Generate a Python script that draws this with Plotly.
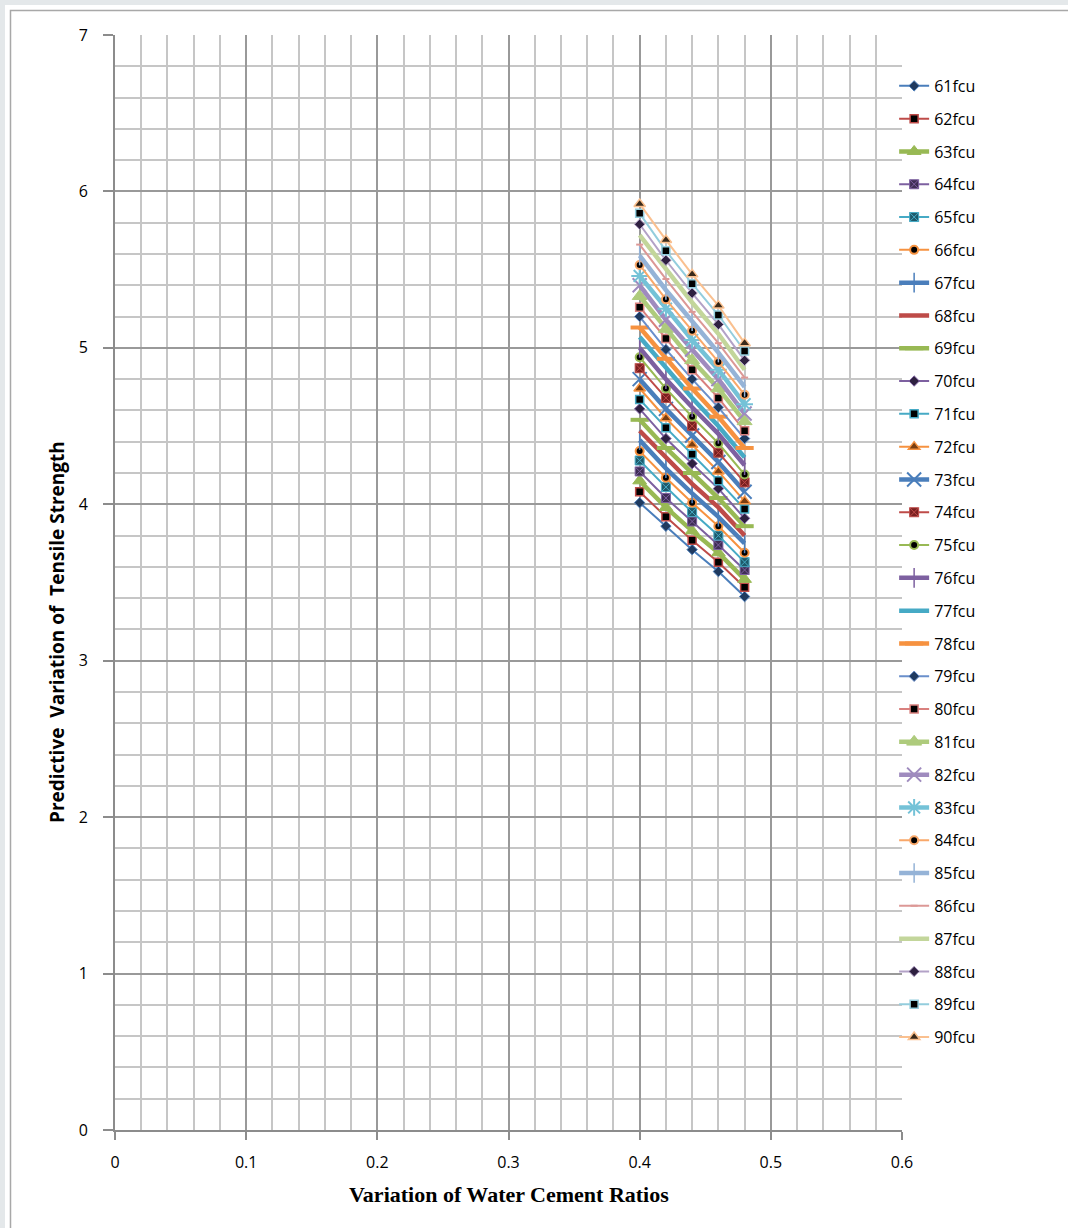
import plotly.graph_objects as go

# ---------------- data ----------------
wc_ratios = [0.40, 0.42, 0.44, 0.46, 0.48]
series_names = [f"{v}fcu" for v in range(61, 91)]

# predicted tensile strength for each series (61fcu ... 90fcu) at each w/c ratio
ts_040 = [4.01, 4.08, 4.15, 4.21, 4.28, 4.34, 4.41, 4.47, 4.54, 4.61,
          4.67, 4.74, 4.80, 4.87, 4.94, 5.00, 5.07, 5.13, 5.20, 5.26,
          5.33, 5.40, 5.46, 5.53, 5.59, 5.66, 5.72, 5.79, 5.86, 5.92]
ts_042 = [3.86, 3.92, 3.98, 4.04, 4.11, 4.17, 4.23, 4.30, 4.36, 4.42,
          4.49, 4.55, 4.61, 4.68, 4.74, 4.80, 4.87, 4.93, 4.99, 5.06,
          5.12, 5.18, 5.25, 5.31, 5.37, 5.44, 5.50, 5.56, 5.62, 5.69]
ts_044 = [3.71, 3.77, 3.83, 3.89, 3.95, 4.01, 4.07, 4.13, 4.20, 4.26,
          4.32, 4.38, 4.44, 4.50, 4.56, 4.62, 4.68, 4.74, 4.80, 4.86,
          4.92, 4.99, 5.05, 5.11, 5.17, 5.23, 5.29, 5.35, 5.41, 5.47]
ts_046 = [3.57, 3.63, 3.69, 3.74, 3.80, 3.86, 3.92, 3.98, 4.04, 4.10,
          4.15, 4.21, 4.27, 4.33, 4.39, 4.45, 4.50, 4.56, 4.62, 4.68,
          4.74, 4.80, 4.86, 4.91, 4.97, 5.03, 5.09, 5.15, 5.21, 5.27]
ts_048 = [3.41, 3.47, 3.52, 3.58, 3.63, 3.69, 3.75, 3.80, 3.86, 3.91,
          3.97, 4.02, 4.08, 4.14, 4.19, 4.25, 4.30, 4.36, 4.42, 4.47,
          4.53, 4.58, 4.64, 4.70, 4.75, 4.81, 4.86, 4.92, 4.98, 5.03]

x_ticks = [0, 0.1, 0.2, 0.3, 0.4, 0.5, 0.6]
x_tick_labels = ["0", "0.1", "0.2", "0.3", "0.4", "0.5", "0.6"]
y_ticks = [0, 1, 2, 3, 4, 5, 6, 7]

# ---------------- styles ----------------
# (line colour, line width, marker symbol, marker size, marker fill, marker line colour, marker line width)
THIN, THICK = 2, 4.5
styles = [
    ("#4A7EBB", THIN, "diamond", 8, "#1F3A5F", "#4A7EBB", 1),
    ("#BE4B48", THIN, "square", 8, "#000000", "#BE4B48", 1.5),
    ("#98B954", THICK, "triangle-up", 12, "#98B954", "#98B954", 1),
    ("#7D60A0", THIN, "square-x", 9, "#3F2E55", "#7D60A0", 1),
    ("#46AAC5", THIN, "square-x", 9, "#1E5A6B", "#46AAC5", 1),
    ("#F69240", THIN, "circle", 8, "#000000", "#F69240", 2),
    ("#4A7EBB", THICK, "line-ns-open", 14, "#4A7EBB", "#4A7EBB", 1.5),
    ("#BE4B48", THICK, None, 0, None, None, 0),
    ("#98B954", THICK, "line-ew-open", 13, "#98B954", "#98B954", 4),
    ("#7D60A0", THIN, "diamond", 8, "#2E2040", "#7D60A0", 1),
    ("#46AAC5", THIN, "square", 8, "#000000", "#46AAC5", 1.5),
    ("#F69240", THIN, "triangle-up", 10, "#7A3E10", "#F69240", 1.5),
    ("#4A7EBB", THICK, "x-thin-open", 14, "#4A7EBB", "#4A7EBB", 2),
    ("#BE4B48", THIN, "square-x", 9, "#7A2020", "#BE4B48", 1),
    ("#98B954", THIN, "circle", 8, "#000000", "#98B954", 2),
    ("#7D60A0", THICK, "line-ns-open", 14, "#7D60A0", "#7D60A0", 1.5),
    ("#46AAC5", THICK, None, 0, None, None, 0),
    ("#F69240", THICK, "line-ew-open", 13, "#F69240", "#F69240", 4),
    ("#6A8FCB", THIN, "diamond", 8, "#1F3A5F", "#6A8FCB", 1),
    ("#D9807E", THIN, "square", 8, "#000000", "#D9807E", 1.5),
    ("#AECB7C", THICK, "triangle-up", 13, "#AECB7C", "#AECB7C", 1),
    ("#9F8BBE", THICK, "x-thin-open", 14, "#9F8BBE", "#9F8BBE", 2),
    ("#74C2D7", THICK, "asterisk-open", 14, "#74C2D7", "#74C2D7", 2),
    ("#F9A86A", THIN, "circle", 8, "#000000", "#F9A86A", 2),
    ("#95B3D7", THICK, "line-ns-open", 14, "#95B3D7", "#95B3D7", 1.5),
    ("#DC9896", THIN, "line-ew-open", 5, "#DC9896", "#DC9896", 2),
    ("#C3D69B", THICK, None, 0, None, None, 0),
    ("#B3A2C7", THIN, "diamond", 8, "#2E2040", "#B3A2C7", 1),
    ("#93CDDD", THIN, "square", 8, "#000000", "#93CDDD", 1.5),
    ("#FAC08F", THIN, "triangle-up", 10, "#3A2A1A", "#FAC08F", 1.5),
]

fig = go.Figure()

for i, name in enumerate(series_names):
    yvals = [ts_040[i], ts_042[i], ts_044[i], ts_046[i], ts_048[i]]
    lc, lw, sym, msz, mfill, mlc, mlw = styles[i]
    if sym is None:
        mode = "lines"
        marker = None
    else:
        mode = "lines+markers"
        marker = dict(symbol=sym, size=msz, color=mfill,
                      line=dict(color=mlc, width=mlw))
    fig.add_trace(go.Scatter(
        x=wc_ratios, y=yvals, name=name, mode=mode,
        line=dict(color=lc, width=lw),
        marker=marker,
        legendgroup=name,
    ))

axis_font = dict(family="Open Sans, Lato, sans-serif", size=16, color="#000000")
grid_major = "#999999"
grid_minor = "#c6c6c6"

fig.update_layout(
    width=1068, height=1228,
    margin=dict(l=115, r=166, t=35, b=98),
    paper_bgcolor="#e4e8ea",
    plot_bgcolor="rgba(0,0,0,0)",
    showlegend=True,
    legend=dict(
        x=0.99, y=0.969, xanchor="left", yanchor="top",
        bgcolor="rgba(0,0,0,0)",
        font=dict(family="Open Sans, Lato, sans-serif", size=16, color="#000000"),
        traceorder="grouped",
        tracegroupgap=9,
        itemwidth=30,
    ),
    xaxis=dict(
        range=[0, 0.6], tickvals=x_ticks, ticktext=x_tick_labels,
        showgrid=True, gridcolor=grid_major, gridwidth=1.8,
        zeroline=False, showline=True, linecolor="#8c8c8c", linewidth=1.8,
        ticks="outside", ticklen=8, tickcolor="#8c8c8c", tickwidth=1.8,
        tickfont=axis_font, ticklabelstandoff=9,
        minor=dict(dtick=0.02, showgrid=True, gridcolor=grid_minor, gridwidth=1.6, ticks=""),
    ),
    yaxis=dict(
        range=[0, 7], tickvals=y_ticks,
        showgrid=True, gridcolor=grid_major, gridwidth=1.8,
        zeroline=False, showline=True, linecolor="#8c8c8c", linewidth=1.8,
        ticks="outside", ticklen=10, tickcolor="#8c8c8c", tickwidth=1.8,
        tickfont=axis_font, ticklabelstandoff=12,
        minor=dict(dtick=0.2, showgrid=True, gridcolor=grid_minor, gridwidth=1.6, ticks=""),
    ),
    shapes=[
        dict(type="rect", xref="paper", yref="paper", layer="below",
             x0=(5 - 115) / 787, x1=(1080 - 115) / 787,
             y0=(1130 - 1240) / 1095, y1=(1130 - 5) / 1095,
             fillcolor="#ffffff", line=dict(width=0)),
        dict(type="rect", xref="paper", yref="paper", layer="below",
             x0=(10.5 - 115) / 787, x1=(1090 - 115) / 787,
             y0=(1130 - 1250) / 1095, y1=(1130 - 10.5) / 1095,
             fillcolor="rgba(0,0,0,0)", line=dict(color="#a8a8a8", width=1.5)),
    ],
    annotations=[
        dict(text="<b>Variation of Water Cement Ratios</b>", xref="paper", yref="paper",
             x=(509 - 115) / 787, y=(1130 - 1194) / 1095, xanchor="center", yanchor="middle",
             showarrow=False,
             font=dict(family="Liberation Serif, Times New Roman, serif", size=22, color="#000000")),
        dict(text="<b>Predictive\u00a0 Variation of\u00a0 Tensile Strength</b>", xref="paper", yref="paper",
             x=(57 - 115) / 787, y=(1130 - 632) / 1095, xanchor="center", yanchor="middle",
             textangle=-90, showarrow=False,
             font=dict(family="Open Sans, Lato, sans-serif", size=19, color="#000000")),
    ],
)

fig.write_html("out.html")
